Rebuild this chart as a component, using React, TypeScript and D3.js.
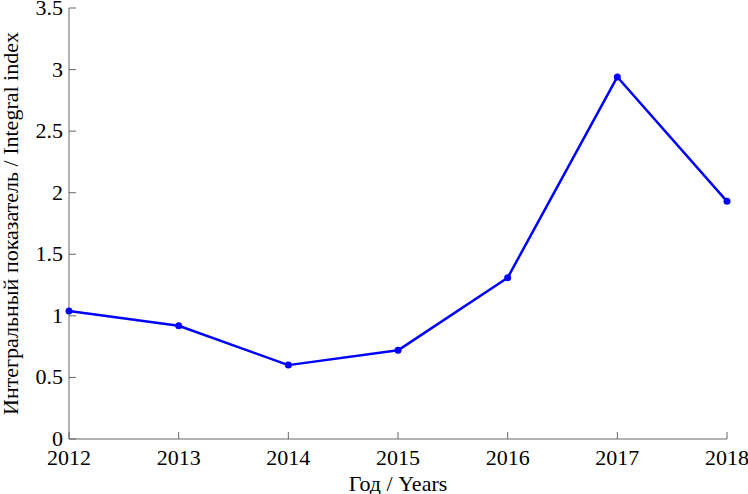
import React from "react";
import * as d3 from "d3";

// data
const years = [2012, 2013, 2014, 2015, 2016, 2017, 2018];
const values = [1.04, 0.92, 0.6, 0.72, 1.31, 2.94, 1.93];
const yTicks = [0, 0.5, 1, 1.5, 2, 2.5, 3, 3.5];

const W = 748;
const H = 494;
const m = { left: 69, right: 21, top: 8, bottom: 55 };

export default function App() {
  const x = d3.scaleLinear().domain([2012, 2018]).range([m.left, W - m.right]);
  const y = d3.scaleLinear().domain([0, 3.5]).range([H - m.bottom, m.top]);

  const pts = years.map((yr, i) => [x(yr), y(values[i])] as [number, number]);
  const path = d3.line()(pts) || "";
  const font = "'Liberation Serif', 'Times New Roman', serif";
  const axisColor = "#666";
  const fs = 22;

  return (
    <svg
      width={W}
      height={H}
      style={{ position: "absolute", left: 0, top: 0, background: "#fff" }}
      fontFamily={font}
    >
      {/* axes */}
      <line x1={m.left} x2={m.left} y1={y(3.5)} y2={y(0)} stroke={axisColor} />
      <line x1={m.left} x2={x(2018)} y1={y(0)} y2={y(0)} stroke={axisColor} />
      {yTicks.map((t) => (
        <g key={t}>
          <line x1={m.left} x2={m.left + 7} y1={y(t)} y2={y(t)} stroke={axisColor} />
          <text x={m.left - 6} y={y(t) + 7} textAnchor="end" fontSize={fs} fill="#000">
            {t}
          </text>
        </g>
      ))}
      {years.map((yr) => (
        <g key={yr}>
          <line x1={x(yr)} x2={x(yr)} y1={y(0)} y2={y(0) - 7} stroke={axisColor} />
          <text x={x(yr)} y={y(0) + 26} textAnchor="middle" fontSize={fs} fill="#000">
            {yr}
          </text>
        </g>
      ))}
      {/* titles */}
      <text x={(x(2012) + x(2018)) / 2} y={491} textAnchor="middle" fontSize={fs} fill="#000">
        Год / Years
      </text>
      <text
        transform={`translate(18, ${(y(0) + y(3.5)) / 2}) rotate(-90)`}
        textAnchor="middle"
        fontSize={fs}
        fill="#000"
      >
        Интегральный показатель / Integral index
      </text>
      {/* series */}
      <path d={path} fill="none" stroke="#0000ff" strokeWidth={2.5} strokeLinejoin="round" />
      {pts.map((p, i) => (
        <circle key={i} cx={p[0]} cy={p[1]} r={3.5} fill="#0000ff" />
      ))}
    </svg>
  );
}
